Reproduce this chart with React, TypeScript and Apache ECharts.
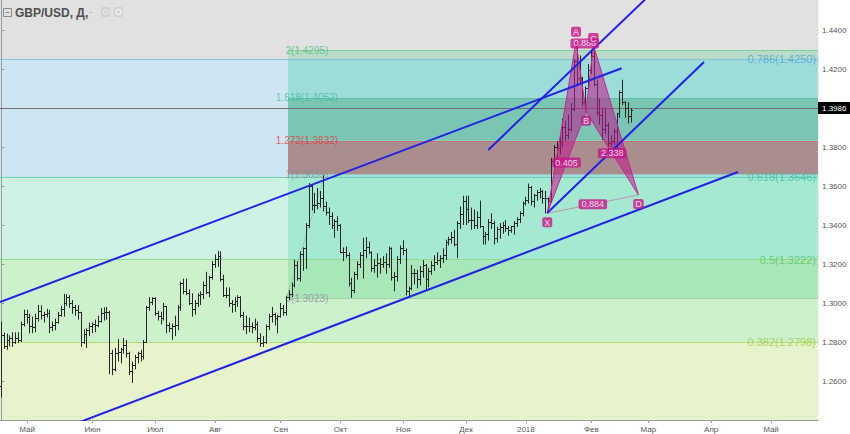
import React, { useEffect, useRef } from "react";
import * as echarts from "echarts";

const FONT = '"Liberation Sans", Arial, Helvetica, sans-serif';

// ---------- categories (weekdays from 18 Apr 2017) ----------
const START_YEAR = 2017;
const START_MONTH = 3; // April (0-based)
const START_DAY = 18;
const CATEGORY_COUNT = 287;
const MONTHS_RU = ["Янв", "Фев", "Мар", "Апр", "Май", "Июн", "Июл", "Авг", "Сен", "Окт", "Ноя", "Дек"];

function buildCategories(): string[] {
  const out: string[] = [];
  const d = new Date(Date.UTC(START_YEAR, START_MONTH, START_DAY));
  while (out.length < CATEGORY_COUNT) {
    const wd = d.getUTCDay();
    if (wd !== 0 && wd !== 6) {
      const mm = String(d.getUTCMonth() + 1).padStart(2, "0");
      const dd = String(d.getUTCDate()).padStart(2, "0");
      out.push(`${d.getUTCFullYear()}-${mm}-${dd}`);
    }
    d.setUTCDate(d.getUTCDate() + 1);
  }
  return out;
}
const categories = buildCategories();

// ---------- daily bars: [open, high, low, close] ----------
const ohlc: number[][] = [
  // Apr 2017
  [1.2570, 1.2905, 1.2515, 1.2835], [1.2835, 1.2848, 1.2765, 1.2775], [1.2775, 1.2843, 1.2760, 1.2810],
  [1.2810, 1.2835, 1.2777, 1.2820], [1.2820, 1.2850, 1.2775, 1.2795], [1.2795, 1.2850, 1.2790, 1.2820],
  [1.2820, 1.2850, 1.2795, 1.2810], [1.2810, 1.2905, 1.2800, 1.2890], [1.2890, 1.2966, 1.2880, 1.2940],
  // May
  [1.2940, 1.2965, 1.2895, 1.2925], [1.2925, 1.2945, 1.2845, 1.2880], [1.2880, 1.2930, 1.2845, 1.2875],
  [1.2875, 1.2945, 1.2850, 1.2920], [1.2920, 1.2990, 1.2905, 1.2955], [1.2955, 1.2988, 1.2915, 1.2935],
  [1.2935, 1.2955, 1.2900, 1.2940], [1.2940, 1.2970, 1.2925, 1.2945], [1.2945, 1.2965, 1.2845, 1.2875],
  [1.2875, 1.2905, 1.2855, 1.2885], [1.2885, 1.2920, 1.2860, 1.2900], [1.2900, 1.2955, 1.2895, 1.2935],
  [1.2935, 1.2985, 1.2930, 1.2965], [1.2965, 1.3047, 1.2930, 1.2995], [1.2995, 1.3045, 1.2985, 1.3030],
  [1.3030, 1.3040, 1.2975, 1.3000], [1.3000, 1.3015, 1.2945, 1.2975], [1.2975, 1.2990, 1.2935, 1.2960],
  [1.2960, 1.2990, 1.2915, 1.2950], [1.2950, 1.2955, 1.2775, 1.2800], [1.2800, 1.2865, 1.2790, 1.2840],
  [1.2840, 1.2870, 1.2770, 1.2860], [1.2860, 1.2900, 1.2830, 1.2880],
  // Jun
  [1.2880, 1.2900, 1.2845, 1.2890], [1.2890, 1.2915, 1.2850, 1.2885], [1.2885, 1.2935, 1.2875, 1.2905],
  [1.2905, 1.2975, 1.2900, 1.2945], [1.2945, 1.2978, 1.2910, 1.2950], [1.2950, 1.2980, 1.2915, 1.2950],
  [1.2950, 1.2960, 1.2635, 1.2740], [1.2740, 1.2760, 1.2630, 1.2660], [1.2660, 1.2770, 1.2650, 1.2740],
  [1.2740, 1.2815, 1.2700, 1.2745], [1.2745, 1.2770, 1.2690, 1.2760], [1.2760, 1.2820, 1.2740, 1.2780],
  [1.2780, 1.2810, 1.2720, 1.2740], [1.2740, 1.2750, 1.2630, 1.2650], [1.2650, 1.2700, 1.2590, 1.2680],
  [1.2680, 1.2735, 1.2660, 1.2720], [1.2720, 1.2750, 1.2690, 1.2740], [1.2740, 1.2760, 1.2700, 1.2725],
  [1.2725, 1.2810, 1.2710, 1.2800], [1.2800, 1.2985, 1.2795, 1.2975], [1.2975, 1.3030, 1.2960, 1.3005],
  [1.3005, 1.3030, 1.2990, 1.3025],
  // Jul
  [1.3025, 1.3030, 1.2935, 1.2945], [1.2945, 1.2960, 1.2910, 1.2930], [1.2930, 1.2955, 1.2890, 1.2920],
  [1.2920, 1.3000, 1.2910, 1.2980], [1.2980, 1.2985, 1.2845, 1.2885], [1.2885, 1.2900, 1.2850, 1.2870],
  [1.2870, 1.2895, 1.2810, 1.2880], [1.2880, 1.2935, 1.2830, 1.2885], [1.2885, 1.2990, 1.2860, 1.2975],
  [1.2975, 1.3110, 1.2960, 1.3100], [1.3100, 1.3125, 1.3045, 1.3060], [1.3060, 1.3125, 1.3040, 1.3050],
  [1.3050, 1.3070, 1.2990, 1.3000], [1.3000, 1.3050, 1.2930, 1.2965], [1.2965, 1.3015, 1.2940, 1.2995],
  [1.2995, 1.3050, 1.2980, 1.3040], [1.3040, 1.3060, 1.2990, 1.3045], [1.3045, 1.3110, 1.3020, 1.3090],
  [1.3090, 1.3160, 1.3045, 1.3055], [1.3055, 1.3140, 1.3030, 1.3130], [1.3130, 1.3215, 1.3120, 1.3200],
  // Aug
  [1.3200, 1.3250, 1.3180, 1.3225], [1.3225, 1.3268, 1.3185, 1.3240], [1.3240, 1.3265, 1.3110, 1.3120],
  [1.3120, 1.3145, 1.3030, 1.3040], [1.3040, 1.3080, 1.3025, 1.3040], [1.3040, 1.3080, 1.2980, 1.2995],
  [1.2995, 1.3015, 1.2950, 1.2990], [1.2990, 1.3030, 1.2955, 1.3010], [1.3010, 1.3040, 1.2980, 1.3030],
  [1.3030, 1.3035, 1.2925, 1.2935], [1.2935, 1.2955, 1.2860, 1.2880], [1.2880, 1.2935, 1.2840, 1.2880],
  [1.2880, 1.2925, 1.2850, 1.2880], [1.2880, 1.2900, 1.2845, 1.2875], [1.2875, 1.2920, 1.2860, 1.2890],
  [1.2890, 1.2905, 1.2800, 1.2820], [1.2820, 1.2845, 1.2775, 1.2790], [1.2790, 1.2830, 1.2775, 1.2800],
  [1.2800, 1.2890, 1.2790, 1.2880], [1.2880, 1.2945, 1.2860, 1.2930], [1.2930, 1.2980, 1.2900, 1.2940],
  [1.2940, 1.2950, 1.2885, 1.2920], [1.2920, 1.2940, 1.2845, 1.2930],
  // Sep
  [1.2930, 1.3000, 1.2925, 1.2970], [1.2970, 1.2990, 1.2935, 1.2950], [1.2950, 1.3035, 1.2935, 1.3030],
  [1.3030, 1.3065, 1.3015, 1.3045], [1.3045, 1.3105, 1.3030, 1.3090], [1.3090, 1.3222, 1.3080, 1.3190],
  [1.3190, 1.3215, 1.3115, 1.3125], [1.3125, 1.3265, 1.3110, 1.3250], [1.3250, 1.3285, 1.3165, 1.3280],
  [1.3280, 1.3410, 1.3175, 1.3400], [1.3400, 1.3615, 1.3385, 1.3595], [1.3595, 1.3605, 1.3475, 1.3500],
  [1.3500, 1.3565, 1.3460, 1.3500], [1.3500, 1.3590, 1.3480, 1.3510], [1.3510, 1.3575, 1.3490, 1.3535],
  [1.3535, 1.3655, 1.3470, 1.3495], [1.3495, 1.3520, 1.3450, 1.3465], [1.3465, 1.3490, 1.3400, 1.3445],
  [1.3445, 1.3465, 1.3380, 1.3395], [1.3395, 1.3430, 1.3335, 1.3420], [1.3420, 1.3445, 1.3370, 1.3400],
  // Oct
  [1.3400, 1.3405, 1.3255, 1.3260], [1.3260, 1.3285, 1.3215, 1.3260], [1.3260, 1.3290, 1.3230, 1.3245],
  [1.3245, 1.3260, 1.3085, 1.3100], [1.3100, 1.3130, 1.3027, 1.3065], [1.3065, 1.3160, 1.3050, 1.3145],
  [1.3145, 1.3215, 1.3120, 1.3200], [1.3200, 1.3260, 1.3180, 1.3245], [1.3245, 1.3335, 1.3125, 1.3270],
  [1.3270, 1.3338, 1.3230, 1.3285], [1.3285, 1.3315, 1.3250, 1.3260], [1.3260, 1.3265, 1.3160, 1.3175],
  [1.3175, 1.3225, 1.3155, 1.3190], [1.3190, 1.3255, 1.3130, 1.3205], [1.3205, 1.3230, 1.3150, 1.3195],
  [1.3195, 1.3240, 1.3180, 1.3210], [1.3210, 1.3255, 1.3150, 1.3200], [1.3200, 1.3290, 1.3180, 1.3280],
  [1.3280, 1.3285, 1.3115, 1.3130], [1.3130, 1.3160, 1.3060, 1.3135], [1.3135, 1.3240, 1.3110, 1.3225],
  [1.3225, 1.3295, 1.3200, 1.3280],
  // Nov
  [1.3280, 1.3322, 1.3245, 1.3270], [1.3270, 1.3280, 1.3040, 1.3060], [1.3060, 1.3085, 1.3030, 1.3075],
  [1.3075, 1.3195, 1.3065, 1.3150], [1.3150, 1.3175, 1.3095, 1.3150], [1.3150, 1.3170, 1.3075, 1.3120],
  [1.3120, 1.3190, 1.3090, 1.3160], [1.3160, 1.3220, 1.3130, 1.3190], [1.3190, 1.3200, 1.3065, 1.3120],
  [1.3120, 1.3180, 1.3080, 1.3160], [1.3160, 1.3215, 1.3145, 1.3190], [1.3190, 1.3245, 1.3165, 1.3210],
  [1.3210, 1.3260, 1.3195, 1.3220], [1.3220, 1.3245, 1.3180, 1.3230], [1.3230, 1.3280, 1.3205, 1.3245],
  [1.3245, 1.3325, 1.3220, 1.3310], [1.3310, 1.3340, 1.3295, 1.3325], [1.3325, 1.3365, 1.3305, 1.3335],
  [1.3335, 1.3375, 1.3290, 1.3300], [1.3300, 1.3420, 1.3230, 1.3410], [1.3410, 1.3495, 1.3380, 1.3455],
  [1.3455, 1.3550, 1.3400, 1.3520],
  // Dec
  [1.3520, 1.3550, 1.3400, 1.3480], [1.3480, 1.3550, 1.3410, 1.3425], [1.3425, 1.3490, 1.3375, 1.3425],
  [1.3425, 1.3480, 1.3380, 1.3400], [1.3400, 1.3470, 1.3380, 1.3440], [1.3440, 1.3525, 1.3385, 1.3390],
  [1.3390, 1.3395, 1.3300, 1.3340], [1.3340, 1.3365, 1.3300, 1.3350], [1.3350, 1.3430, 1.3320, 1.3415],
  [1.3415, 1.3460, 1.3380, 1.3410], [1.3410, 1.3420, 1.3300, 1.3330], [1.3330, 1.3390, 1.3310, 1.3375],
  [1.3375, 1.3410, 1.3330, 1.3385], [1.3385, 1.3415, 1.3355, 1.3395], [1.3395, 1.3425, 1.3365, 1.3380],
  [1.3380, 1.3395, 1.3345, 1.3370], [1.3370, 1.3395, 1.3360, 1.3390], [1.3390, 1.3420, 1.3350, 1.3410],
  [1.3410, 1.3440, 1.3390, 1.3430], [1.3430, 1.3470, 1.3410, 1.3460], [1.3460, 1.3520, 1.3445, 1.3510],
  // Jan 2018
  [1.3510, 1.3545, 1.3500, 1.3525], [1.3525, 1.3613, 1.3510, 1.3590], [1.3590, 1.3600, 1.3500, 1.3520],
  [1.3520, 1.3560, 1.3490, 1.3550], [1.3550, 1.3580, 1.3525, 1.3565], [1.3565, 1.3590, 1.3535, 1.3570],
  [1.3570, 1.3580, 1.3510, 1.3535], [1.3535, 1.3575, 1.3460, 1.3535], [1.3535, 1.3540, 1.3480, 1.3520],
  [1.3520, 1.3745, 1.3515, 1.3725], [1.3725, 1.3810, 1.3700, 1.3795], [1.3795, 1.3830, 1.3725, 1.3790],
  [1.3790, 1.3860, 1.3760, 1.3825], [1.3825, 1.3945, 1.3800, 1.3900], [1.3900, 1.3935, 1.3830, 1.3860],
  [1.3860, 1.3965, 1.3840, 1.3890], [1.3890, 1.4025, 1.3880, 1.3990], [1.3990, 1.4250, 1.3985, 1.4240],
  [1.4240, 1.4345, 1.4110, 1.4150], [1.4150, 1.4270, 1.4120, 1.4150], [1.4150, 1.4160, 1.4010, 1.4030],
  [1.4030, 1.4110, 1.3980, 1.4100], [1.4100, 1.4225, 1.4095, 1.4190],
  // Feb
  [1.4190, 1.4300, 1.4175, 1.4265], [1.4265, 1.4290, 1.4110, 1.4120], [1.4120, 1.4145, 1.3960, 1.3975],
  [1.3975, 1.4050, 1.3915, 1.3960], [1.3960, 1.3995, 1.3835, 1.3890], [1.3890, 1.4000, 1.3865, 1.3910],
  [1.3910, 1.3925, 1.3775, 1.3820], [1.3820, 1.3860, 1.3800, 1.3830], [1.3830, 1.3895, 1.3810, 1.3880],
  [1.3880, 1.3975, 1.3770, 1.3970], [1.3970, 1.4090, 1.3950, 1.4080], [1.4080, 1.4145, 1.4015, 1.4030],
  [1.4030, 1.4035, 1.3950, 1.3995], [1.3995, 1.4030, 1.3920, 1.3955], [1.3955, 1.4000, 1.3925, 1.3986],
];

// ---------- price axis ----------
const Y_MIN = 1.24;
const Y_MAX = 1.4554;
const Y_STEP = 0.02;
const X_MIN = -0.5;
const X_MAX = CATEGORY_COUNT - 0.5;

// ---------- Fibonacci retracement (big, full width) ----------
const bigFibRatios = ["0.382", "0.5", "0.618", "0.786"];
const bigFibPrices = [1.2798, 1.3222, 1.3646, 1.4250];

// ---------- Fibonacci extension (small, from Sep) ----------
const smallFibRatios = ["0", "1", "1.272", "1.618", "2"];
const smallFibPrices = [1.3023, 1.3659, 1.3832, 1.4052, 1.4295];
const SMALL_FIB_START = 100.55;
const SMALL_FIB_LABEL_X = 107.2;
const smallFibAnchors = [[100.0, 1.3023], [113.5, 1.3659]];

const LAST_PRICE = 1.3986;

// ---------- trend lines [[x, price], [x, price]] in bar-index units ----------
const trendLines = [
  [[-0.5, 1.3005], [217.6, 1.4204]],
  [[-0.5, 1.2234], [258.4, 1.3672]],
  [[170.8, 1.3785], [228.0, 1.4587]],
  [[191.5, 1.3462], [246.5, 1.4236]],
];

// ---------- XABCD pattern ----------
const patternNames = ["X", "A", "B", "C", "D"];
const patternPoints = [
  [191.5, 1.3460],
  [201.6, 1.4340],
  [205.1, 1.3981],
  [207.7, 1.4323],
  [223.5, 1.3554],
];
const patternTriangles = [[0, 1, 2], [2, 3, 4]];
const patternGuides = [[0, 4], [1, 3]];
const ratioLabels: [string, number, number][] = [
  ["0.405", 0, 2],
  ["0.886", 1, 3],
  ["2.338", 2, 4],
  ["0.884", 0, 4],
];

// ---------- styles ----------
const leftBandColors = ["#e7f4cb", "#cdf0cd", "#cdf3e5", "#cfe5f2", "#e1e1e1"];
const rightBandColors = ["#a9e7ba", "#a6e9d3", "#a2dedb", "#aa8e8f", "#7bc5b4", "#9edcd9", "#b9dcc9"];
const bigFibLineColors = ["#b3dd70", "#92d98a", "#66d3b4", "#86c3e2"];
const bigFibTextColors = ["#9ccb3a", "#5cc45c", "#34c29a", "#4aa6d4"];
const smallFibLineColors = ["#9fd3ac", "#94c9c2", "#c27575", "#63bea4", "#7fcf9d"];
const smallFibTextColors = ["#8c8c8c", "#8c8c8c", "#e53935", "#3cbf9a", "#4cbf7c"];
const TREND_COLOR = "#2222e4";
const PATTERN_COLOR = "#c4188a";
const BAR_COLOR = "#262626";

function isMonthStart(i: number): boolean {
  return i > 0 && categories[i].slice(5, 7) !== categories[i - 1].slice(5, 7);
}
function fmtMonth(v: string): string {
  const m = Number(v.slice(5, 7)) - 1;
  return m === 0 ? v.slice(0, 4) : MONTHS_RU[m];
}

function buildOption(): any {
  const leftBounds = [Y_MIN, ...bigFibPrices, Y_MAX];
  const leftBands = leftBandColors.map((c, i) => [
    { xAxis: X_MIN, yAxis: leftBounds[i], itemStyle: { color: c } },
    { xAxis: X_MAX, yAxis: leftBounds[i + 1] },
  ]);
  const rightBounds = [
    smallFibPrices[0], bigFibPrices[1], bigFibPrices[2], smallFibPrices[1],
    smallFibPrices[2], smallFibPrices[3], bigFibPrices[3], smallFibPrices[4],
  ];
  const rightBands = rightBandColors.map((c, i) => [
    { xAxis: SMALL_FIB_START, yAxis: rightBounds[i], itemStyle: { color: c } },
    { xAxis: X_MAX, yAxis: rightBounds[i + 1] },
  ]);

  const series: any[] = [
    {
      name: "bigFib",
      type: "line",
      xAxisIndex: 1,
      data: [],
      silent: true,
      markArea: { silent: true, z: 0, data: leftBands },
      markLine: {
        silent: true,
        z: 0.6,
        symbol: "none",
        label: { show: false },
        data: bigFibPrices.map((p, i) => [
          { xAxis: X_MIN, yAxis: p, lineStyle: { color: bigFibLineColors[i], width: 1, type: "solid" } },
          { xAxis: X_MAX, yAxis: p },
        ]),
      },
    },
    {
      name: "smallFib",
      type: "line",
      xAxisIndex: 1,
      data: [],
      silent: true,
      markArea: { silent: true, z: 0.5, data: rightBands },
      markLine: {
        silent: true,
        z: 0.7,
        symbol: "none",
        label: { show: false },
        data: smallFibPrices.map((p, i) => [
          { xAxis: SMALL_FIB_START, yAxis: p, lineStyle: { color: smallFibLineColors[i], width: 1, type: "solid" } },
          { xAxis: X_MAX, yAxis: p },
        ]),
      },
    },
    {
      name: "fibAnchor",
      type: "line",
      xAxisIndex: 1,
      data: smallFibAnchors,
      showSymbol: false,
      silent: true,
      z: 1,
      lineStyle: { color: "rgba(110,110,110,0.55)", width: 1, type: "dotted" },
    },
    {
      name: "priceLine",
      type: "line",
      xAxisIndex: 1,
      data: [],
      silent: true,
      markLine: {
        silent: true,
        z: 1.5,
        symbol: "none",
        lineStyle: { color: "#707070", width: 1, type: "solid" },
        label: {
          show: true,
          position: "end",
          distance: 0,
          formatter: LAST_PRICE.toFixed(4),
          backgroundColor: "#000000",
          color: "#ffffff",
          fontSize: 8,
          fontFamily: FONT,
          padding: [2, 4, 2, 4],
        },
        data: [{ yAxis: LAST_PRICE }],
      },
    },
    {
      name: "fibLabels",
      type: "scatter",
      xAxisIndex: 1,
      symbolSize: 0,
      silent: true,
      z: 1.8,
      label: { show: true, formatter: "{b}", fontFamily: FONT },
      data: [
        ...smallFibPrices.map((p, i) => ({
          name: `${smallFibRatios[i]}(${p.toFixed(4)})`,
          value: [SMALL_FIB_LABEL_X, p],
          label: { position: "inside", color: smallFibTextColors[i], fontSize: 10 },
        })),
        ...bigFibPrices.map((p, i) => ({
          name: `${bigFibRatios[i]}(${p.toFixed(4)})`,
          value: [X_MAX, p],
          label: { position: "left", distance: 2, color: bigFibTextColors[i], fontSize: 11 },
        })),
      ],
    },
    {
      name: "GBP/USD",
      type: "custom",
      xAxisIndex: 0,
      z: 2,
      silent: true,
      data: ohlc.map((b, i) => [i, b[0], b[1], b[2], b[3]]),
      encode: { x: 0, y: [1, 2, 3, 4] },
      renderItem: (_params: any, api: any) => {
        const i = api.value(0);
        const pO = api.coord([i, api.value(1)]);
        const pH = api.coord([i, api.value(2)]);
        const pL = api.coord([i, api.value(3)]);
        const pC = api.coord([i, api.value(4)]);
        const x = Math.round(pH[0] - 0.5) + 0.5;
        const yo = Math.round(pO[1] - 0.5) + 0.5;
        const yc = Math.round(pC[1] - 0.5) + 0.5;
        const s = { stroke: BAR_COLOR, lineWidth: 1 };
        return {
          type: "group",
          children: [
            { type: "line", shape: { x1: x, y1: pH[1], x2: x, y2: pL[1] }, style: s },
            { type: "line", shape: { x1: x - 1.6, y1: yo, x2: x, y2: yo }, style: s },
            { type: "line", shape: { x1: x, y1: yc, x2: x + 1.6, y2: yc }, style: s },
          ],
        };
      },
    },
    {
      name: "pattern",
      type: "custom",
      xAxisIndex: 1,
      z: 3,
      silent: true,
      data: patternTriangles.map((t) => t.flatMap((k) => patternPoints[k])),
      encode: { x: [0, 2, 4], y: [1, 3, 5] },
      renderItem: (_params: any, api: any) => {
        const pts = [0, 1, 2].map((k) => api.coord([api.value(2 * k), api.value(2 * k + 1)]));
        return {
          type: "polygon",
          shape: { points: pts },
          style: { fill: "rgba(190,22,140,0.55)", stroke: "#c2288f", lineWidth: 1 },
        };
      },
    },
    {
      name: "patternGuides",
      type: "custom",
      xAxisIndex: 1,
      z: 3,
      silent: true,
      data: patternGuides.map((g) => [...patternPoints[g[0]], ...patternPoints[g[1]]]),
      encode: { x: [0, 2], y: [1, 3] },
      renderItem: (_params: any, api: any) => {
        const a = api.coord([api.value(0), api.value(1)]);
        const b = api.coord([api.value(2), api.value(3)]);
        return {
          type: "line",
          shape: { x1: a[0], y1: a[1], x2: b[0], y2: b[1] },
          style: { stroke: "rgba(200,120,170,0.75)", lineWidth: 1 },
        };
      },
    },
    ...trendLines.map((tl, i) => ({
      name: `trend${i}`,
      type: "line",
      xAxisIndex: 1,
      data: tl,
      showSymbol: false,
      silent: true,
      clip: true,
      z: 4,
      lineStyle: { color: TREND_COLOR, width: 2 },
    })),
    {
      name: "ratioLabels",
      type: "scatter",
      xAxisIndex: 1,
      symbolSize: 0,
      silent: true,
      z: 5,
      label: {
        show: true,
        position: "inside",
        formatter: "{b}",
        color: "#ffffff",
        fontSize: 9,
        lineHeight: 9,
        fontFamily: FONT,
        backgroundColor: PATTERN_COLOR,
        borderRadius: 2,
        padding: [1, 3, 0, 3],
      },
      data: ratioLabels.map(([t, a, b]) => ({
        name: t,
        value: [
          (patternPoints[a][0] + patternPoints[b][0]) / 2,
          (patternPoints[a][1] + patternPoints[b][1]) / 2,
        ],
      })),
    },
    {
      name: "patternLetters",
      type: "scatter",
      xAxisIndex: 1,
      symbolSize: 0,
      silent: true,
      z: 6,
      label: {
        show: true,
        formatter: "{b}",
        color: "#ffffff",
        fontSize: 9,
        lineHeight: 9,
        fontFamily: FONT,
        backgroundColor: PATTERN_COLOR,
        borderRadius: 2,
        padding: [1, 2, 0, 2],
      },
      data: patternPoints.map((p, i) => ({
        name: patternNames[i],
        value: p,
        label: {
          position: i === 1 || i === 3 ? "top" : "bottom",
          distance: i === 1 ? 5 : i === 3 ? 2 : 4,
        },
      })),
    },
  ];

  return {
    animation: false,
    backgroundColor: "#ffffff",
    textStyle: { fontFamily: FONT },
    grid: { left: 0, right: 32, top: 0, bottom: 14, containLabel: false },
    xAxis: [
      {
        type: "category",
        data: categories,
        boundaryGap: true,
        axisLine: { show: true, lineStyle: { color: "#9a9a9a" } },
        axisTick: { show: true, alignWithLabel: true, interval: isMonthStart, length: 3, lineStyle: { color: "#9a9a9a" } },
        axisLabel: { interval: isMonthStart, formatter: fmtMonth, fontSize: 8, color: "#555555", margin: 5, fontFamily: FONT },
        splitLine: { show: true, interval: isMonthStart, lineStyle: { color: "rgba(0,0,0,0.05)" } },
      },
      { type: "value", min: X_MIN, max: X_MAX, show: false },
    ],
    yAxis: {
      type: "value",
      position: "right",
      min: Y_MIN,
      max: Y_MAX,
      interval: Y_STEP,
      axisLine: { show: true, lineStyle: { color: "#9a9a9a" } },
      axisTick: { show: true, length: 3, lineStyle: { color: "#9a9a9a" } },
      axisLabel: {
        formatter: (v: number) => v.toFixed(4),
        fontSize: 8,
        color: "#555555",
        margin: 4,
        fontFamily: FONT,
        showMinLabel: false,
        showMaxLabel: false,
      },
      splitLine: { show: true, lineStyle: { color: "rgba(0,0,0,0.05)" } },
    },
    graphic: [
      { type: "rect", shape: { x: 3.5, y: 8.5, width: 8, height: 8 }, style: { fill: "none", stroke: "#8a8a8a", lineWidth: 1 }, z: 10 },
      { type: "line", shape: { x1: 5.5, y1: 12.5, x2: 9.5, y2: 12.5 }, style: { stroke: "#8a8a8a", lineWidth: 1 }, z: 10 },
      {
        type: "text",
        x: 15,
        y: 7,
        z: 10,
        style: { text: "GBP/USD, Д,", fontSize: 12, fontWeight: "bold", fontFamily: FONT, fill: "#4f4f4f" },
      },
      { type: "line", shape: { x1: 89.5, y1: 12.5, x2: 92.5, y2: 12.5 }, style: { stroke: "#bdbdbd", lineWidth: 1 }, z: 10 },
      { type: "rect", shape: { x: 101, y: 7, width: 9, height: 10, r: 1 }, style: { fill: "#d2d2d2" }, z: 10 },
      { type: "circle", shape: { cx: 105.5, cy: 12, r: 2.3 }, style: { fill: "none", stroke: "#f2f2f2", lineWidth: 1 }, z: 11 },
      { type: "rect", shape: { x: 114, y: 7, width: 9, height: 10, r: 1 }, style: { fill: "#d2d2d2" }, z: 10 },
      { type: "circle", shape: { cx: 118.5, cy: 12, r: 2.6 }, style: { fill: "none", stroke: "#f2f2f2", lineWidth: 1.5 }, z: 11 },
    ],
    series,
  };
}

export default function App() {
  const ref = useRef<HTMLDivElement>(null);
  useEffect(() => {
    if (!ref.current) return;
    const chart = echarts.init(ref.current, undefined, { renderer: "svg" });
    chart.setOption(buildOption());
    return () => chart.dispose();
  }, []);
  return (
    <div
      ref={ref}
      style={{ position: "fixed", left: 0, top: 0, width: 850, height: 434, background: "#ffffff" }}
    />
  );
}
